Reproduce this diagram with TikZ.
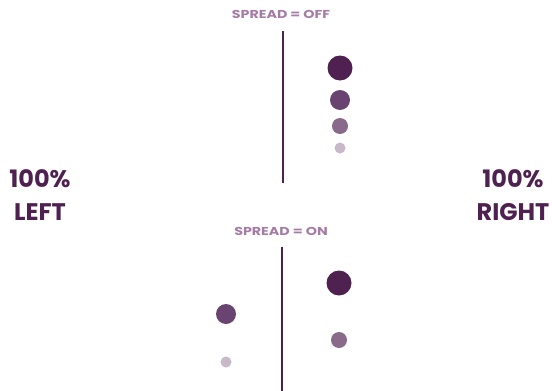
\documentclass[tikz,border=0pt]{standalone}
\usepackage{fontspec}
\usepackage{graphicx}
\setmainfont{Poppins}[BoldFont=* Bold]
\definecolor{dark}{HTML}{4E2150}
\definecolor{mid}{HTML}{6A4470}
\definecolor{light}{HTML}{8A6A8A}
\definecolor{pale}{HTML}{C8B8CA}
\definecolor{lbl}{HTML}{A67BA6}
\newcommand{\wide}[1]{\scalebox{1.24}[1]{#1}}
\begin{document}
\begin{tikzpicture}[x=1pt,y=-1pt,
  dot/.style={circle,inner sep=0pt,minimum size=#1},
  axis/.style={draw=dark,line width=2.6pt},
  title/.style={font=\bfseries\fontsize{11.5}{12}\selectfont,text=lbl,inner sep=0pt},
  side/.style={font=\bfseries\fontsize{24}{33.5}\selectfont,text=dark,align=center,inner sep=0pt}]
\useasboundingbox (0,0) rectangle (552,391);
% top
\node[title] (t1) at (281,14) {\wide{SPREAD = OFF}};
\coordinate (a1) at (283,31);
\coordinate (b1) at (283,183);
\draw[axis] (a1) -- (b1);
\node[dot=25pt,fill=dark] (c1) at (340,68) {};
\node[dot=20pt,fill=mid] (c2) at (340,100) {};
\node[dot=16pt,fill=light] (c3) at (340,126) {};
\node[dot=11pt,fill=pale] (c4) at (340,148) {};
% bottom
\node[title] (t2) at (281,231) {\wide{SPREAD = ON}};
\coordinate (a2) at (282,247);
\coordinate (b2) at (282,391);
\draw[axis] (a2) -- (b2);
\node[dot=25pt,fill=dark] (d1) at (339,283) {};
\node[dot=16pt,fill=light] (d2) at (339,340) {};
\node[dot=20pt,fill=mid] (d3) at (226,314) {};
\node[dot=11pt,fill=pale] (d4) at (226,362) {};
% sides
\node[side] (l) at (40,195) {100\%\\LEFT};
\node[side] (r) at (513,195) {100\%\\RIGHT};
\end{tikzpicture}
\end{document}
